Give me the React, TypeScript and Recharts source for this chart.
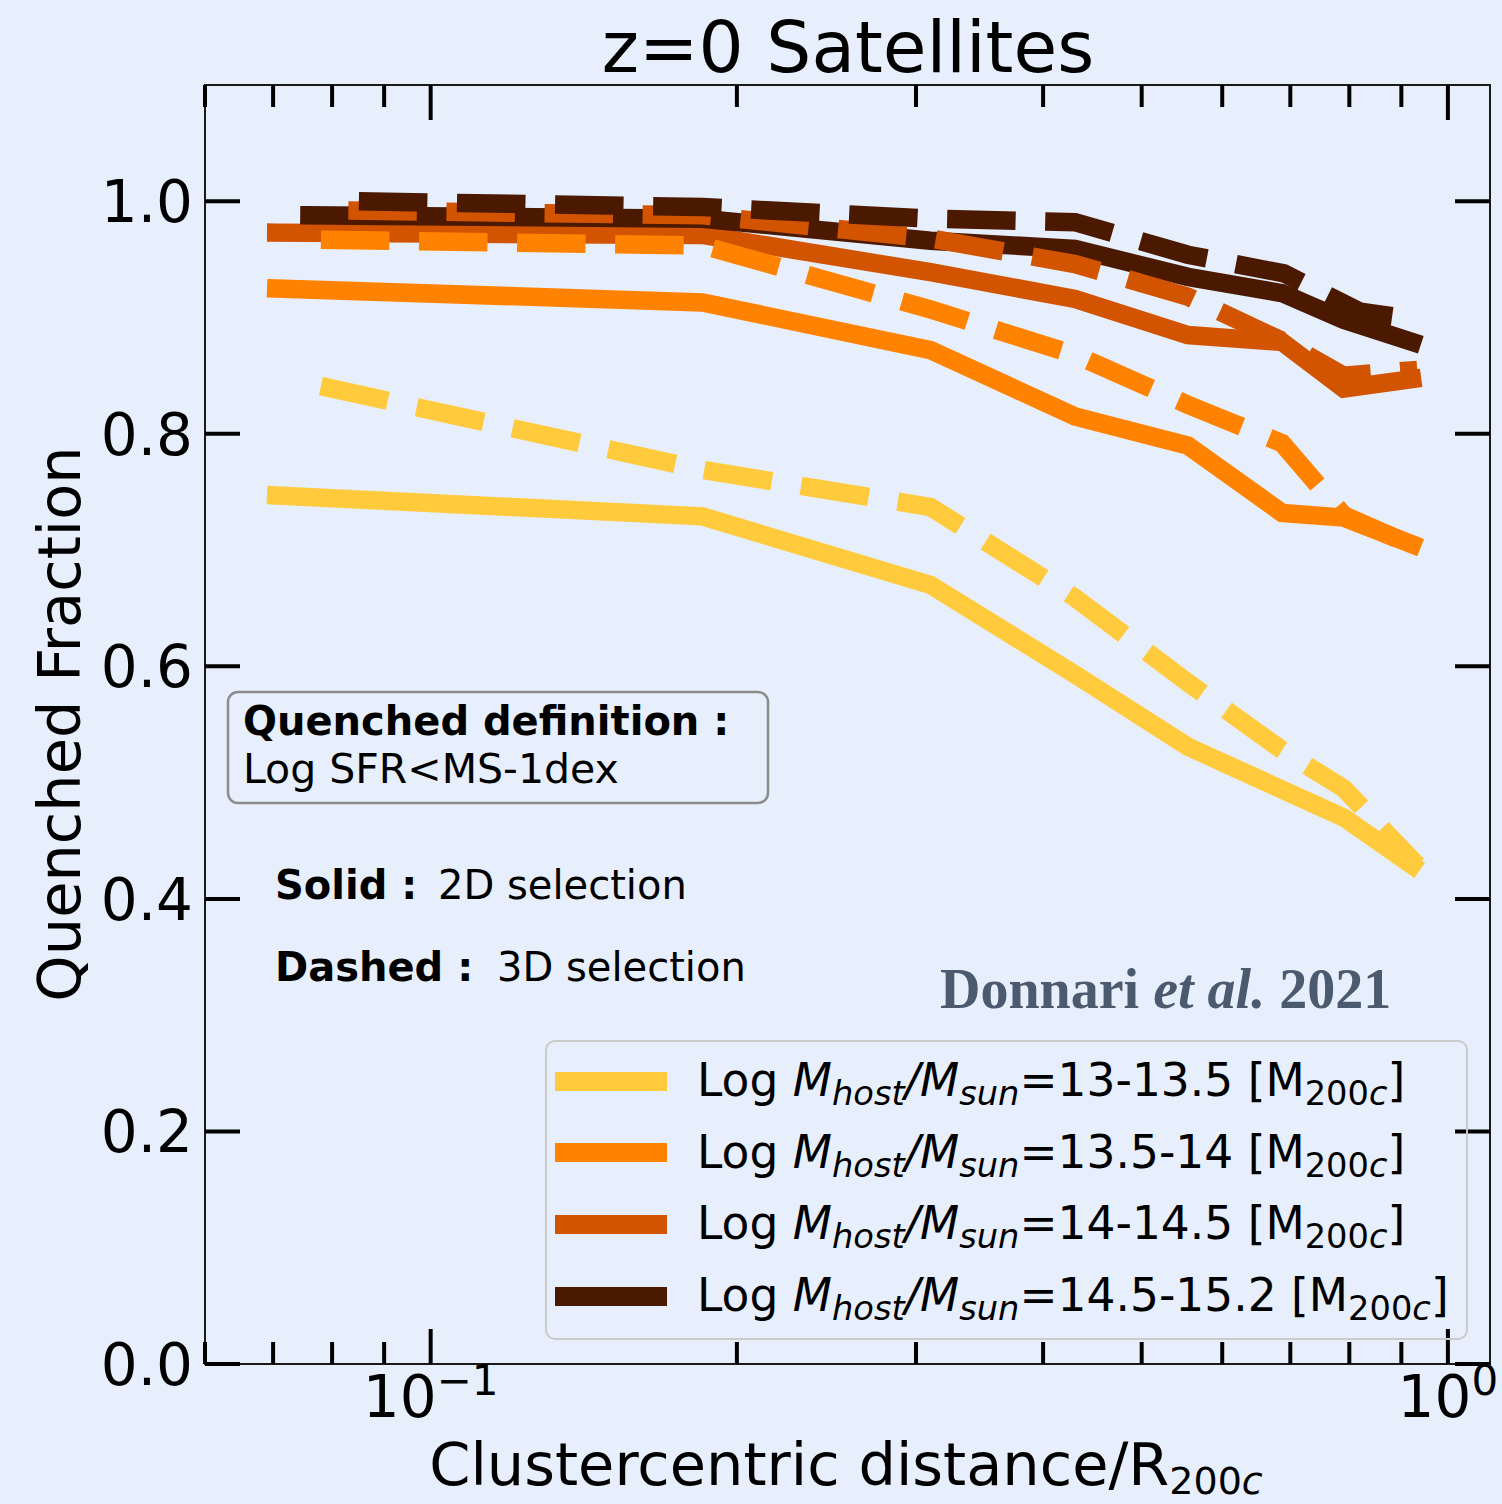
import React from 'react';
import { LineChart, Line, XAxis, YAxis, Legend, Customized } from 'recharts';

const BG = '#E7EFFC';
const FONT = '"DejaVu Sans", sans-serif';

// plot box in page pixels (layout only)
const PLOT = { left: 205, right: 1490, top: 85, bottom: 1364 };

// clustercentric distance / R200c for each curve
const R_SOLID = [0.0705, 0.185, 0.31, 0.43, 0.555, 0.687, 0.79, 0.922];
const R_SOLID_HI = [0.076, 0.185, 0.31, 0.43, 0.555, 0.687, 0.79, 0.922];
const R_DASH = [0.078, 0.185, 0.31, 0.43, 0.555, 0.687, 0.79, 0.933];
const R_DASH_MID = [0.083, 0.185, 0.31, 0.43, 0.555, 0.687, 0.79, 0.933];
const R_DASH_HI = [0.085, 0.185, 0.31, 0.43, 0.555, 0.69, 0.82, 0.935];

// quenched fraction, 2D (solid) and 3D (dashed) selection
const Q_13_2D = [0.747, 0.729, 0.67, 0.593, 0.531, 0.494, 0.47, 0.429];
const Q_13_3D = [0.841, 0.769, 0.737, 0.659, 0.586, 0.528, 0.495, 0.429];
const Q_135_2D = [0.925, 0.913, 0.872, 0.815, 0.79, 0.732, 0.728, 0.705];
const Q_135_3D = [0.967, 0.962, 0.907, 0.868, 0.825, 0.792, 0.73, 0.702];
const Q_14_2D = [0.973, 0.971, 0.939, 0.916, 0.885, 0.879, 0.839, 0.847];
const Q_14_3D = [0.992, 0.988, 0.968, 0.946, 0.918, 0.88, 0.85, 0.855];
const Q_145_2D = [0.988, 0.985, 0.966, 0.959, 0.935, 0.921, 0.898, 0.879];
const Q_145_3D = [1.0, 0.995, 0.985, 0.982, 0.954, 0.938, 0.905, 0.898];

const MASS_BINS = ['13-13.5', '13.5-14', '14-14.5', '14.5-15.2'];
const COLORS = ['#FFCA3C', '#FF8200', '#D35400', '#4A1900'];

const X_TICKS = [0.06, 0.07, 0.08, 0.09, 0.1, 0.2, 0.3, 0.4, 0.5, 0.6, 0.7, 0.8, 0.9, 1.0];
const Y_TICKS = [0, 0.2, 0.4, 0.6, 0.8, 1.0];

const LW = 18.5;
const DASH = '68.5 29.6';

const pts = (xs: number[], ys: number[]) => xs.map((x, i) => ({ x, y: ys[i] }));

const SOLID = [
  pts(R_SOLID, Q_13_2D),
  pts(R_SOLID, Q_135_2D),
  pts(R_SOLID, Q_14_2D),
  pts(R_SOLID_HI, Q_145_2D),
];
const DASHED = [
  pts(R_DASH, Q_13_3D),
  pts(R_DASH, Q_135_3D),
  pts(R_DASH_MID, Q_14_3D),
  pts(R_DASH_HI, Q_145_3D),
];

const isDecade = (v: number) => Math.abs(Math.log10(v) - Math.round(Math.log10(v))) < 1e-9;

// ticks point inward, mirrored on the top edge
const BottomTick = (props: any) => {
  const { x, payload } = props;
  const v = payload.value;
  const major = isDecade(v);
  const len = major ? 35 : 22;
  const exp = Math.round(Math.log10(v));
  return (
    <g>
      <line x1={x} x2={x} y1={PLOT.bottom} y2={PLOT.bottom - len} stroke="#000" strokeWidth={4} />
      <line x1={x} x2={x} y1={PLOT.top} y2={PLOT.top + len} stroke="#000" strokeWidth={4} />
      {major && (
        <text x={x} y={1417} textAnchor="middle" fontSize={58} fill="#000" fontFamily={FONT}>
          <tspan>10</tspan>
          <tspan dy={-22} fontSize={42}>{exp < 0 ? '\u2212' + Math.abs(exp) : String(exp)}</tspan>
        </text>
      )}
    </g>
  );
};

// ticks point inward, mirrored on the right edge
const LeftTick = (props: any) => {
  const { y, payload } = props;
  return (
    <g>
      <line x1={PLOT.left} x2={PLOT.left + 35} y1={y} y2={y} stroke="#000" strokeWidth={4} />
      <line x1={PLOT.right} x2={PLOT.right - 35} y1={y} y2={y} stroke="#000" strokeWidth={4} />
      <text x={193} y={y + 21} textAnchor="end" fontSize={58} fill="#000" fontFamily={FONT}>
        {payload.value.toFixed(1)}
      </text>
    </g>
  );
};

const Annotations = () => (
  <g fontFamily={FONT} fill="#000">
    <rect
      x={PLOT.left}
      y={PLOT.top}
      width={PLOT.right - PLOT.left}
      height={PLOT.bottom - PLOT.top}
      fill="none"
      stroke="#1a1a1a"
      strokeWidth={2}
    />
    <text x={848} y={72} textAnchor="middle" fontSize={71}>z=0 Satellites</text>
    <text x={846} y={1485} textAnchor="middle" fontSize={59}>
      <tspan>Clustercentric distance/R</tspan>
      <tspan dy={9} fontSize={38}>200</tspan>
      <tspan fontSize={38} fontStyle="italic">c</tspan>
    </text>
    <text x={80} y={724} textAnchor="middle" fontSize={59} transform="rotate(-90 80 724)">Quenched Fraction</text>

    <rect x={228} y={692} width={540} height={111} rx={10} fill="none" stroke="#8C8C8C" strokeWidth={2.5} />
    <text x={243} y={735} fontSize={40} fontWeight="bold">Quenched definition :</text>
    <text x={243} y={783} fontSize={41}>Log SFR&lt;MS-1dex</text>

    <text x={275} y={899} fontSize={40} fontWeight="bold">Solid :</text>
    <text x={438} y={899} fontSize={40}>2D selection</text>
    <text x={275} y={981} fontSize={40} fontWeight="bold">Dashed :</text>
    <text x={497} y={981} fontSize={40}>3D selection</text>

    <text x={940} y={1008} fontSize={56} fontWeight="bold" fill="#4B5A6F" fontFamily='"Liberation Serif", serif'>
      <tspan>Donnari </tspan>
      <tspan fontStyle="italic">et al.</tspan>
      <tspan> 2021</tspan>
    </text>
  </g>
);

const sub: React.CSSProperties = { fontSize: '0.74em', verticalAlign: '-0.28em', lineHeight: 0 };

const LegendBox = () => (
  <div
    style={{
      position: 'relative',
      width: 923,
      height: 300,
      border: '2px solid #CBCBCB',
      borderRadius: 10,
      boxSizing: 'border-box',
      fontFamily: FONT,
      color: '#000',
    }}
  >
    {MASS_BINS.map((bin, i) => (
      <div
        key={bin}
        style={{
          position: 'absolute',
          left: 8,
          top: 41 + i * 71.7 - 25 - 2,
          height: 50,
          display: 'flex',
          alignItems: 'center',
          whiteSpace: 'nowrap',
        }}
      >
        <div style={{ width: 112, height: 19, background: COLORS[i] }} />
        <span style={{ marginLeft: 30, fontSize: 45.5, lineHeight: '50px' }}>
          Log <i>M</i>
          <span style={sub}><i>host</i></span>
          <i>/M</i>
          <span style={sub}><i>sun</i></span>={bin} [M
          <span style={sub}>200<i>c</i></span>]
        </span>
      </div>
    ))}
  </div>
);

export default function App() {
  return (
    <div style={{ position: 'absolute', left: 0, top: 0, width: 1502, height: 1504, background: BG, fontFamily: FONT }}>
      <LineChart width={1502} height={1504} margin={{ top: PLOT.top, right: 1502 - PLOT.right, bottom: 0, left: 0 }}>
        <XAxis
          dataKey="x"
          type="number"
          scale="log"
          domain={[0.06, 1.1]}
          allowDataOverflow
          ticks={X_TICKS}
          interval={0}
          height={1504 - PLOT.bottom}
          tickLine={false}
          tickSize={0}
          axisLine={{ stroke: '#1a1a1a', strokeWidth: 2 }}
          tick={<BottomTick />}
        />
        <YAxis
          type="number"
          domain={[0, 1.1]}
          allowDataOverflow
          ticks={Y_TICKS}
          interval={0}
          width={PLOT.left}
          tickLine={false}
          tickSize={0}
          axisLine={{ stroke: '#1a1a1a', strokeWidth: 2 }}
          tick={<LeftTick />}
        />
        {SOLID.map((d, i) => (
          <Line
            key={'s' + i}
            data={d}
            dataKey="y"
            type="linear"
            stroke={COLORS[i]}
            strokeWidth={LW}
            strokeLinecap="square"
            strokeLinejoin="miter"
            dot={false}
            activeDot={false}
            isAnimationActive={false}
          />
        ))}
        {DASHED.map((d, i) => (
          <Line
            key={'d' + i}
            data={d}
            dataKey="y"
            type="linear"
            stroke={COLORS[i]}
            strokeWidth={LW}
            strokeDasharray={DASH}
            strokeLinecap="butt"
            strokeLinejoin="miter"
            dot={false}
            activeDot={false}
            isAnimationActive={false}
          />
        ))}
        <Customized component={<Annotations />} />
        <Legend
          layout="horizontal"
          verticalAlign="middle"
          align="center"
          content={<LegendBox />}
          wrapperStyle={{ position: 'absolute', left: 545, top: 1040, width: 923, height: 300 }}
        />
      </LineChart>
    </div>
  );
}
